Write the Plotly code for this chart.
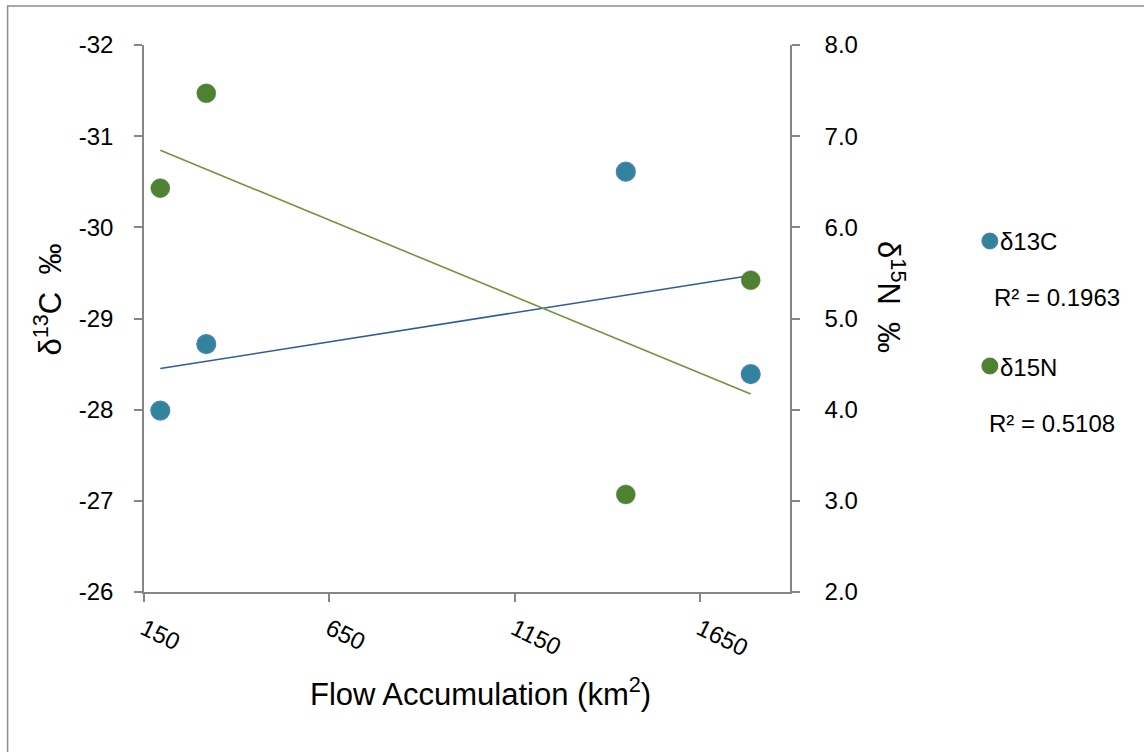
import numpy as np
import plotly.graph_objects as go

# ---- data ----
flow_acc = [194, 318, 1450, 1787]            # km2
d13c = [-27.99, -28.72, -30.61, -28.39]      # per mil
d15n = [6.43, 7.47, 3.07, 5.42]              # per mil
x_ticks = [150, 650, 1150, 1650]
y1_ticks = [-32, -31, -30, -29, -28, -27, -26]
y2_ticks = [2, 3, 4, 5, 6, 7, 8]
r2_labels = ["R² = 0.1963", "R² = 0.5108"]
series_names = ["δ13C", "δ15N"]

# linear trendlines (least squares, as Excel does)
xa = np.array(flow_acc, dtype=float)
xt = np.array([xa.min(), xa.max()])
c_fit = np.polyfit(xa, d13c, 1)
n_fit = np.polyfit(xa, d15n, 1)

# ---- geometry helpers (pixel -> paper) ----
W, H = 1144, 752
L, R, T, B = 143.5, 790, 45, 592
def px(xp):
    return (xp - L) / (R - L)
def py(yp):
    return (B - yp) / (B - T)

FONT = "Liberation Sans, Arial, sans-serif"
AX = "#868686"
BLUE_FILL = "#31849B"
BLUE_EDGE = "#4F81BD"
GREEN_FILL = "#4F8133"
BLUE_LINE = "#2E5C9C"
GREEN_LINE = "#76923C"

fig = go.Figure()
fig.add_trace(go.Scatter(x=xt, y=np.polyval(c_fit, xt), mode="lines",
                         line=dict(color=BLUE_LINE, width=1.6), yaxis="y",
                         showlegend=False, hoverinfo="skip"))
fig.add_trace(go.Scatter(x=xt, y=np.polyval(n_fit, xt), mode="lines",
                         line=dict(color=GREEN_LINE, width=1.6), yaxis="y2",
                         showlegend=False, hoverinfo="skip"))
fig.add_trace(go.Scatter(x=flow_acc, y=d13c, mode="markers", name=series_names[0],
                         marker=dict(size=19, color=BLUE_FILL,
                                     line=dict(color=BLUE_EDGE, width=1.2)),
                         yaxis="y", showlegend=False))
fig.add_trace(go.Scatter(x=flow_acc, y=d15n, mode="markers", name=series_names[1],
                         marker=dict(size=19, color=GREEN_FILL,
                                     line=dict(color=GREEN_FILL, width=0.5)),
                         yaxis="y2", showlegend=False))

tickfont = dict(family=FONT, size=24, color="#000000")
fig.update_layout(
    width=W, height=H,
    margin=dict(l=L, r=W - R, t=T, b=H - B, pad=0),
    paper_bgcolor="white", plot_bgcolor="white",
    font=dict(family=FONT, color="#000000"),
    xaxis=dict(range=[150, 1893], tickvals=x_ticks, ticktext=[str(v) for v in x_ticks],
               tickangle=26, ticks="outside", ticklen=8, tickcolor=AX, tickwidth=1.5,
               showline=True, linecolor=AX, linewidth=1.5, showgrid=False,
               zeroline=False, tickfont=tickfont, ticklabelstandoff=4),
    yaxis=dict(range=[-26, -32], tickvals=y1_ticks, ticktext=[str(v) for v in y1_ticks],
               ticks="outside", ticklen=8, tickcolor=AX,
               tickwidth=1.5, showline=True, linecolor=AX, linewidth=1.5,
               showgrid=False, zeroline=False, tickfont=tickfont,
               ticklabelstandoff=16),
    yaxis2=dict(range=[2, 8], tickvals=y2_ticks, ticktext=[f"{v:.1f}" for v in y2_ticks],
                overlaying="y", side="right",
                ticks="outside", ticklen=8, tickcolor=AX, tickwidth=1.5,
                showline=True, linecolor=AX, linewidth=1.5, showgrid=False,
                zeroline=False, tickfont=tickfont, ticklabelstandoff=20),
)

ann = []
ann.append(dict(text="Flow Accumulation (km<sup>2</sup>)", x=px(480), y=py(692),
                xref="paper", yref="paper", showarrow=False,
                font=dict(family=FONT, size=31), xanchor="center", yanchor="middle"))
ann.append(dict(text="δ<sup>13</sup>C  ‰", x=px(47), y=py(300), textangle=-90,
                xref="paper", yref="paper", showarrow=False,
                font=dict(family=FONT, size=31), xanchor="center", yanchor="middle"))
ann.append(dict(text="δ<sup>15</sup>N  ‰", x=px(891), y=py(297), textangle=90,
                xref="paper", yref="paper", showarrow=False,
                font=dict(family=FONT, size=31), xanchor="center", yanchor="middle"))
# legend texts
leg_font = dict(family=FONT, size=24)
ann.append(dict(text=series_names[0], x=px(998), y=py(241), xref="paper", yref="paper",
                showarrow=False, font=leg_font, xanchor="left", yanchor="middle"))
ann.append(dict(text=r2_labels[0], x=px(992), y=py(297), xref="paper", yref="paper",
                showarrow=False, font=leg_font, xanchor="left", yanchor="middle"))
ann.append(dict(text=series_names[1], x=px(998), y=py(367), xref="paper", yref="paper",
                showarrow=False, font=leg_font, xanchor="left", yanchor="middle"))
ann.append(dict(text=r2_labels[1], x=px(987), y=py(423), xref="paper", yref="paper",
                showarrow=False, font=leg_font, xanchor="left", yanchor="middle"))
fig.update_layout(annotations=ann)

shapes = []
# outer chart border (left/top visible, rest beyond canvas)
shapes.append(dict(type="rect", xref="paper", yref="paper",
                   x0=px(7), x1=px(1300), y0=py(900), y1=py(6),
                   line=dict(color="#8C8C8C", width=1.5), fillcolor="rgba(0,0,0,0)",
                   layer="below"))
# legend markers
for cy, fill, edge in [(241, BLUE_FILL, BLUE_EDGE), (366, GREEN_FILL, GREEN_FILL)]:
    shapes.append(dict(type="circle", xref="paper", yref="paper",
                       xsizemode="pixel", ysizemode="pixel",
                       xanchor=px(990), yanchor=py(cy),
                       x0=-8, x1=8, y0=-8, y1=8,
                       fillcolor=fill, line=dict(color=edge, width=1)))
fig.update_layout(shapes=shapes)

fig.write_html("out.html", config={"displayModeBar": False},
               post_script="document.body.style.margin='0';document.body.style.overflow='hidden';")
